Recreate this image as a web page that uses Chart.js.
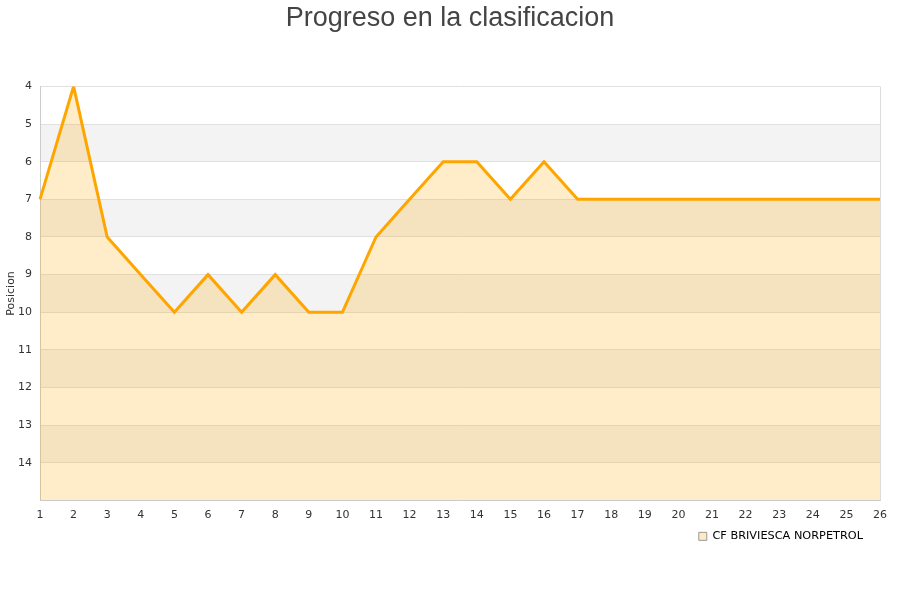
<!DOCTYPE html>
<html>
<head>
<meta charset="utf-8">
<script src="https://cdn.jsdelivr.net/npm/chart.js@4"></script>
<style>
  html, body { margin: 0; padding: 0; background: #fff; }
  #wrap { width: 900px; height: 600px; }
</style>
</head>
<body>
<div id="wrap"><canvas id="chart" width="900" height="600"></canvas></div>
<script>
const jornadas = ["1","2","3","4","5","6","7","8","9","10","11","12","13","14","15","16","17","18","19","20","21","22","23","24","25","26"];
const posiciones = [7, 4, 8, 9, 10, 9, 10, 9, 10, 10, 8, 7, 6, 6, 7, 6, 7, 7, 7, 7, 7, 7, 7, 7, 7, 7];
const teamName = "CF BRIVIESCA NORPETROL";
const posMin = 4;
const posMax = 15;

// grey bands behind every other row + right border
const bandsPlugin = {
  id: "bands",
  afterUpdate(chart) {
    // legend sits a bit left of the plot's right edge
    chart.legend.right -= 8;
  },
  beforeDraw(chart) {
    const { ctx, chartArea, scales } = chart;
    const y = scales.y;
    ctx.save();
    ctx.fillStyle = "#f3f3f3";
    for (let v = posMin + 1; v < posMax; v += 2) {
      const top = y.getPixelForValue(v);
      const bottom = y.getPixelForValue(v + 1);
      ctx.fillRect(chartArea.left, top, chartArea.right - chartArea.left, bottom - top);
    }
    ctx.restore();
  },
  afterDraw(chart) {
    const { ctx, chartArea } = chart;
    ctx.save();
    ctx.strokeStyle = "#dddddd";
    ctx.lineWidth = 1;
    ctx.beginPath();
    ctx.moveTo(chartArea.right + 0.5, chartArea.top);
    ctx.lineTo(chartArea.right + 0.5, chartArea.bottom);
    ctx.stroke();
    ctx.restore();
  }
};

new Chart(document.getElementById("chart"), {
  type: "line",
  data: {
    labels: jornadas,
    datasets: [{
      label: teamName,
      data: posiciones,
      borderColor: "#ffa500",
      backgroundColor: "rgba(255,165,0,0.21)",
      borderWidth: 3,
      pointRadius: 0,
      lineTension: 0,
      fill: { value: posMax }
    }]
  },
  options: {
    responsive: false,
    animation: false,
    layout: { padding: { left: 0, right: 0, top: 0, bottom: 48 } },
    plugins: {
      title: {
        display: true,
        text: "Progreso en la clasificacion",
        color: "#444444",
        font: { family: "Liberation Sans", size: 27, weight: "normal" },
        padding: { top: 2, bottom: 52 }
      },
      legend: {
        position: "bottom",
        align: "end",
        fullSize: false,
        labels: {
          boxWidth: 8,
          boxHeight: 8,
          padding: 9,
          color: "#222222",
          font: { family: "DejaVu Sans", size: 11.3 },
          generateLabels: () => [{
            text: teamName,
            fillStyle: "#ffeac4",
            strokeStyle: "#999999",
            lineWidth: 1
          }]
        }
      },
      tooltip: { enabled: false }
    },
    scales: {
      x: {
        offset: false,
        grid: { display: false },
        border: { color: "#cccccc" },
        ticks: { color: "#333333", padding: 0, font: { family: "DejaVu Sans", size: 11 }, maxRotation: 0, autoSkip: false }
      },
      y: {
        reverse: true,
        min: posMin,
        max: posMax,
        afterFit(scale) { scale.width = 40; },
        grid: { color: "#e0e0e0", drawTicks: false },
        border: { color: "#cccccc" },
        title: { display: true, text: "Posicion", color: "#333333", font: { family: "DejaVu Sans", size: 11 }, padding: { top: 5, bottom: 0 } },
        ticks: {
          stepSize: 1,
          padding: 8,
          color: "#333333",
          font: { family: "DejaVu Sans", size: 11 },
          callback: (v) => (v === posMax ? "" : v)
        }
      },
      // empty axis on the right, only reserves space
      yRight: {
        position: "right",
        reverse: true,
        min: posMin,
        max: posMax,
        afterFit(scale) { scale.width = 20; },
        grid: { display: false },
        border: { display: false },
        ticks: { display: false }
      }
    }
  },
  plugins: [bandsPlugin]
});
</script>
</body>
</html>
